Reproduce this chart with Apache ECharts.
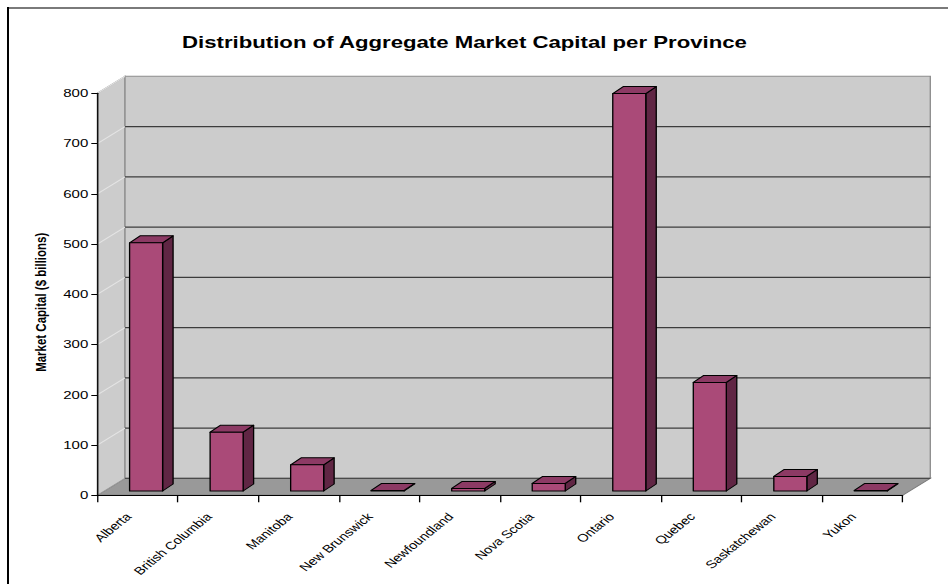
<!DOCTYPE html>
<html>
<head>
<meta charset="utf-8">
<script src="https://cdn.jsdelivr.net/npm/echarts@6/dist/echarts.min.js"></script>
<style>
  html, body { margin: 0; padding: 0; background: #fff; overflow: hidden; }
  #wrap { width: 948px; height: 584px; overflow: hidden; position: relative; }
  #chart { height: 584px; transform-origin: 0 0; }
</style>
</head>
<body>
<div id="wrap"><div id="chart"></div></div>
<script>
// Provinces and aggregate market capital ($ billions)
const provinces = ['Alberta', 'British Columbia', 'Manitoba', 'New Brunswick', 'Newfoundland',
                   'Nova Scotia', 'Ontario', 'Quebec', 'Saskatchewan', 'Yukon'];
const marketCap = [494, 117, 52, 1, 5, 15, 791, 216, 29, 1];
const valueTicks = [0, 100, 200, 300, 400, 500, 600, 700, 800];

// The whole chart is laid out narrow and stretched horizontally (wide 4:3 look)
const STRETCH = 1.33;
const FULL_W = 948;
const W = FULL_W / STRETCH;
const hx = v => v / STRETCH;   // horizontal screen px -> layout px

const el = document.getElementById('chart');
el.style.width = W + 'px';
el.style.transform = 'scaleX(' + STRETCH + ')';

const FONT = 'Liberation Sans, Arial, Helvetica, sans-serif';

// depth of the 3D box
const WALL_DX = hx(27.7);
const WALL_DY = -17;
// bar geometry relative to a category band
const BAR_OFF = -0.099;
const BAR_W = 0.41;
const BAR_DEPTH_X = 0.13;
const BAR_DEPTH_Y = -7;
const BAR_LIFT = -4.3;

function renderWalls(params, api) {
  const cs = params.coordSys;
  const x0 = cs.x, x1 = cs.x + cs.width, yT = cs.y, yB = cs.y + cs.height;
  const dx = WALL_DX, dy = WALL_DY;
  const kids = [];
  // floor
  kids.push({ type: 'polygon',
    shape: { points: [[x0, yB], [x0 + dx, yB + dy], [x1 + dx, yB + dy], [x1, yB]] },
    style: { fill: '#999999', stroke: '#7a7a7a', lineWidth: 1 } });
  // side wall
  kids.push({ type: 'polygon',
    shape: { points: [[x0, yB], [x0, yT], [x0 + dx, yT + dy], [x0 + dx, yB + dy]] },
    style: { fill: '#cccccc', stroke: '#9a9a9a', lineWidth: 1 } });
  // back wall
  kids.push({ type: 'polygon',
    shape: { points: [[x0 + dx, yT + dy], [x1 + dx, yT + dy], [x1 + dx, yB + dy], [x0 + dx, yB + dy]] },
    style: { fill: '#cccccc', stroke: '#8c8c8c', lineWidth: 1 } });
  // gridlines on back and side walls
  valueTicks.forEach(v => {
    const y = api.coord([0, v])[1];
    if (v > 0 && v < valueTicks[valueTicks.length - 1]) {
      kids.push({ type: 'line',
        shape: { x1: x0 + dx, y1: y + dy, x2: x1 + dx, y2: y + dy },
        style: { stroke: '#3c3c3c', lineWidth: 1.2 } });
    }
    if (v > 0) {
      kids.push({ type: 'line',
        shape: { x1: x0, y1: y, x2: x0 + dx, y2: y + dy },
        style: { stroke: '#e4e4e4', lineWidth: 1 } });
    }
  });
  // back edge of the floor
  kids.push({ type: 'line',
    shape: { x1: x0 + dx, y1: yB + dy, x2: x1 + dx, y2: yB + dy },
    style: { stroke: '#4a4a4a', lineWidth: 1.2 } });
  return { type: 'group', children: kids };
}

function renderBar(params, api) {
  const i = api.value(0), v = api.value(1);
  const base = api.coord([i, 0]);
  const top = api.coord([i, v]);
  const band = api.size([1, 0])[0];
  const left = base[0] + BAR_OFF * band;
  const right = left + BAR_W * band;
  const yb = base[1] + BAR_LIFT;
  const yt = top[1] + BAR_LIFT;
  const ddx = BAR_DEPTH_X * band, ddy = BAR_DEPTH_Y;
  const line = { stroke: '#000', lineWidth: 1, lineJoin: 'round' };
  return { type: 'group', children: [
    { type: 'polygon',
      shape: { points: [[right, yt], [right + ddx, yt + ddy], [right + ddx, yb + ddy], [right, yb]] },
      style: Object.assign({ fill: '#602644' }, line) },
    { type: 'polygon',
      shape: { points: [[left, yt], [left + ddx, yt + ddy], [right + ddx, yt + ddy], [right, yt]] },
      style: Object.assign({ fill: '#8c3a64' }, line) },
    { type: 'polygon',
      shape: { points: [[left, yt], [right, yt], [right, yb], [left, yb]] },
      style: Object.assign({ fill: '#aa4a78' }, line) }
  ] };
}

const chart = echarts.init(el, null, { renderer: 'svg' });
chart.setOption({
  animation: false,
  backgroundColor: '#ffffff',
  title: {
    text: 'Distribution of Aggregate Market Capital per Province',
    left: hx(182), top: 34, padding: 0,
    textStyle: { fontFamily: FONT, fontSize: 16.7, fontWeight: 'bold', color: '#000' }
  },
  grid: { left: hx(97.3), right: W - hx(902.3), top: 93.3, bottom: 584 - 495.3, containLabel: false },
  xAxis: {
    type: 'category',
    data: provinces,
    boundaryGap: true,
    axisLine: { show: true, lineStyle: { color: '#000', width: 1 } },
    axisTick: { show: true, length: 7, interval: 0, lineStyle: { color: '#000' } },
    axisLabel: { rotate: 47, interval: 0, margin: 12, padding: [0, 10, 0, 0],
                 fontSize: 11, fontFamily: FONT, color: '#000' },
    splitLine: { show: false },
    z: 10
  },
  yAxis: {
    type: 'value',
    min: 0, max: 800, interval: 100,
    name: 'Market Capital ($ billions)',
    nameLocation: 'middle',
    nameGap: hx(97.3) - hx(49),
    nameTextStyle: { fontFamily: FONT, fontSize: 11.5, fontWeight: 'bold', color: '#000', padding: [0, 16, 0, 0] },
    axisLine: { show: true, lineStyle: { color: '#000', width: 1 } },
    axisTick: { show: true, length: hx(6), lineStyle: { color: '#000' } },
    axisLabel: { margin: hx(9), fontSize: 11.3, fontFamily: FONT, color: '#000' },
    splitLine: { show: false },
    z: 10
  },
  graphic: [
    { type: 'line', shape: { x1: hx(7), y1: 8, x2: W, y2: 8 }, style: { stroke: '#7a7a7a', lineWidth: 2 } },
    { type: 'line', shape: { x1: hx(8), y1: 7, x2: hx(8), y2: 584 }, style: { stroke: '#000', lineWidth: 1.5 } }
  ],
  series: [
    { type: 'custom', name: 'walls', renderItem: renderWalls, data: [[0, 0]], clip: false, z: 1, silent: true },
    { type: 'custom', name: 'Market Capital', renderItem: renderBar,
      data: marketCap.map((v, i) => [i, v]), clip: false, z: 5,
      encode: { x: 0, y: 1 } }
  ]
});
</script>
</body>
</html>
